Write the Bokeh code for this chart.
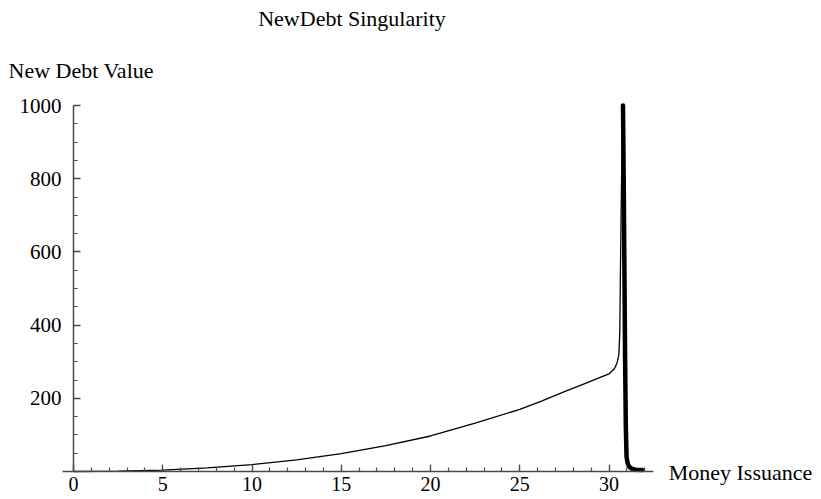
from bokeh.plotting import figure
from bokeh.models import FixedTicker, Label, Range1d
from bokeh.embed import file_html
from bokeh.resources import INLINE

# ---- data ----
rise_x = [0, 2.5, 5, 7.5, 10, 12.5, 15, 17.5, 20, 22.5, 25, 26.25, 27.5, 28.75, 29.5, 30, 30.3, 30.45, 30.55,
          30.6, 30.64, 30.7, 30.76]
rise_y = [0, 1, 4, 10, 19, 32, 49, 71, 97, 132, 170, 193, 218, 242, 257, 267, 281, 297, 320,
          380, 560, 800, 1000]
decay_x = [30.78, 30.82, 30.86, 30.9, 30.94, 30.98, 31.05, 31.15, 31.3, 31.5, 31.85]
decay_y = [1000, 800, 550, 300, 120, 40, 20, 12, 7, 5, 4]
x_major = [0, 5, 10, 15, 20, 25, 30]
x_minor = list(range(0, 33))
y_major = [200, 400, 600, 800, 1000]
y_minor = list(range(0, 1001, 50))
x_axis_extent = (-0.6, 32.5)
y_axis_extent = (0, 1000)

FONT = "Liberation Serif"
AX = "#4a4a4a"

p = figure(width=821, height=499, output_backend="svg", toolbar_location=None,
           x_range=Range1d(-4.09, 41.9), y_range=Range1d(-76.5, 1286.9),
           min_border=0)
p.outline_line_color = None
p.grid.visible = False
p.background_fill_color = "white"
p.border_fill_color = "white"

p.xaxis.fixed_location = 0
p.yaxis.fixed_location = 0
p.xaxis.bounds = x_axis_extent
p.yaxis.bounds = y_axis_extent
for ax in (p.xaxis, p.yaxis):
    ax.axis_line_color = AX
    ax.axis_line_width = 1.5
    ax.major_tick_line_color = AX
    ax.minor_tick_line_color = AX
    ax.major_tick_line_width = 1.3
    ax.minor_tick_line_width = 1.2
    ax.major_tick_in = 7
    ax.major_tick_out = 0
    ax.minor_tick_in = 4
    ax.minor_tick_out = 0
    ax.major_label_text_font = FONT
    ax.major_label_text_color = "black"
p.xaxis.major_label_text_font_size = "20px"
p.yaxis.major_label_text_font_size = "21px"
p.xaxis.ticker = FixedTicker(ticks=x_major, minor_ticks=x_minor)
p.yaxis.ticker = FixedTicker(ticks=y_major, minor_ticks=y_minor)
p.xaxis.major_label_standoff = 5
p.yaxis.major_label_standoff = 12

p.line(rise_x, rise_y, line_color="black", line_width=1.3)
p.line(decay_x, decay_y, line_color="black", line_width=4.5, line_join="round", line_cap="round")

p.add_layout(Label(x=15.6, y=1000, y_offset=87, text="NewDebt Singularity", text_font=FONT,
                   text_font_size="22px", text_align="center", text_baseline="middle", text_color="black"))
p.add_layout(Label(x=0, y=1000, x_offset=-65, y_offset=35, text="New Debt Value", text_font=FONT,
                   text_font_size="22px", text_align="left", text_baseline="middle", text_color="black"))
p.add_layout(Label(x=32.5, y=0, x_offset=15, y_offset=-1, text="Money Issuance", text_font=FONT,
                   text_font_size="22px", text_align="left", text_baseline="middle", text_color="black"))

open("out.html", "w").write(file_html(p, INLINE))
